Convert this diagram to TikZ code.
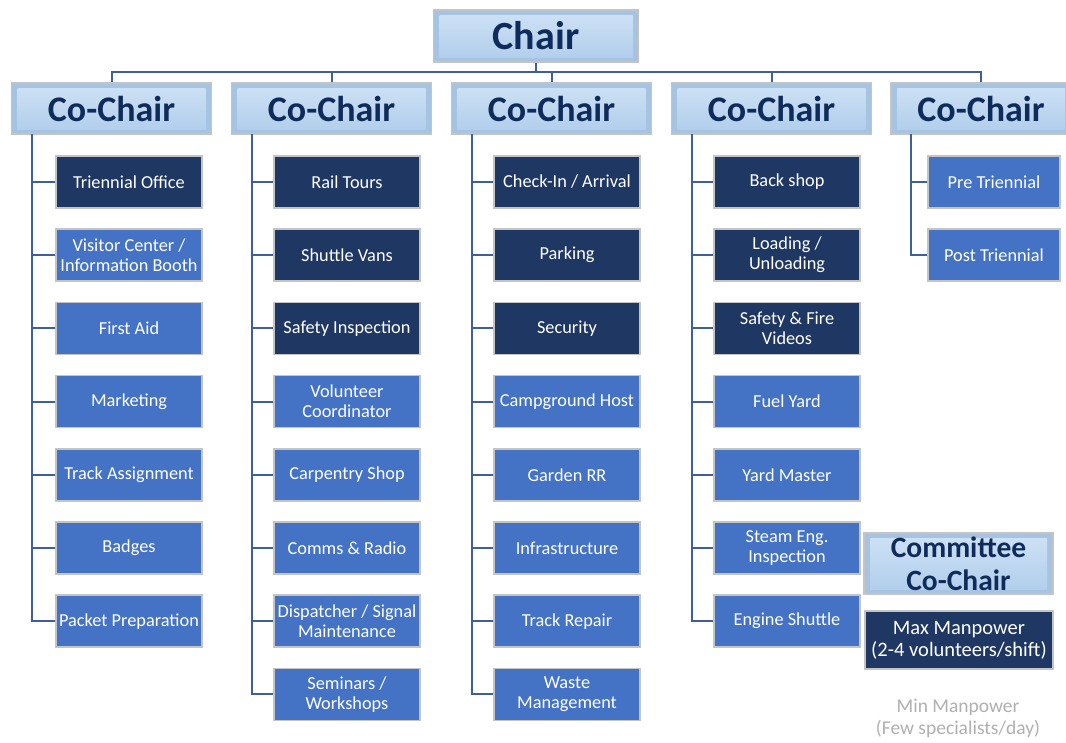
\documentclass[tikz,border=0pt]{standalone}
\usepackage{fontspec}
\setmainfont{Carlito}
\definecolor{navy}{HTML}{1F3763}
\definecolor{midblue}{HTML}{4472C4}
\definecolor{conncol}{HTML}{3F5E9C}
\definecolor{titletext}{HTML}{0F2B5B}
\definecolor{bevedge}{HTML}{A6C3E2}
\definecolor{bevtop}{HTML}{CCE0F4}
\definecolor{bevbot}{HTML}{B2CFEC}
\definecolor{boxborder}{HTML}{C4C4C4}
\definecolor{mingrey}{HTML}{B0B0B0}
\tikzset{
  conn/.style={draw=conncol, line width=2pt},
  leaf/.style={draw=boxborder, line width=1.5pt, minimum width=146pt, minimum height=52pt,
    inner sep=0pt, align=center, text=white, font=\fontsize{18.3}{20}\selectfont},
  darkleaf/.style={leaf, fill=navy},
  lightleaf/.style={leaf, fill=midblue},
  bevel/.style={draw=boxborder, line width=1.2pt, inner sep=0pt, align=center, text=titletext,
    path picture={
      \fill[bevedge] (path picture bounding box.south west) rectangle (path picture bounding box.north east);
      \shade[top color=bevtop, bottom color=bevbot]
        ([shift={(6pt,-5pt)}]path picture bounding box.north west) rectangle
        ([shift={(-6pt,5pt)}]path picture bounding box.south east);
    }},
  cochair/.style={bevel, minimum width=200pt, minimum height=51pt, font=\fontsize{36}{38}\selectfont\bfseries},
}
\begin{document}
\begin{tikzpicture}[x=1pt, y=-1pt]
\useasboundingbox[fill=white] (0,0) rectangle (1066,742);

% Chair and co-chairs
\node[bevel, minimum width=205pt, minimum height=52pt, font=\fontsize{40}{42}\selectfont\bfseries] (chair) at (536,36) {Chair};
\node[cochair] (cc1) at (111.5,108.5) {Co-Chair};
\node[cochair] (cc2) at (331.5,108.5) {Co-Chair};
\node[cochair] (cc3) at (551.5,108.5) {Co-Chair};
\node[cochair] (cc4) at (771.5,108.5) {Co-Chair};
\node[cochair, minimum width=180pt] (cc5) at (981,108.5) {Co-Chair};

\coordinate (hl) at (0,72);
\draw[conn] (chair.south) -- (chair.south |- hl);
\draw[conn] (cc1.north) -- (cc1.north |- hl) -| (cc5.north);
\draw[conn] (cc2.north) -- (cc2.north |- hl);
\draw[conn] (cc3.north) -- (cc3.north |- hl);
\draw[conn] (cc4.north) -- (cc4.north |- hl);

% Column 1
\node[darkleaf]  (c1a) at (129,182)   {Triennial Office};
\node[lightleaf] (c1b) at (129,255.2) {Visitor Center /\\Information Booth};
\node[lightleaf] (c1c) at (129,328.4) {First Aid};
\node[lightleaf] (c1d) at (129,401.6) {Marketing};
\node[lightleaf] (c1e) at (129,474.8) {Track Assignment};
\node[lightleaf] (c1f) at (129,548)   {Badges};
\node[lightleaf] (c1g) at (129,621.2) {Packet Preparation};

% Column 2
\node[darkleaf]  (c2a) at (347,182)   {Rail Tours};
\node[darkleaf]  (c2b) at (347,255.2) {Shuttle Vans};
\node[darkleaf]  (c2c) at (347,328.4) {Safety Inspection};
\node[lightleaf] (c2d) at (347,401.6) {Volunteer\\Coordinator};
\node[lightleaf] (c2e) at (347,474.8) {Carpentry Shop};
\node[lightleaf] (c2f) at (347,548)   {Comms \& Radio};
\node[lightleaf] (c2g) at (347,621.2) {Dispatcher / Signal\\Maintenance};
\node[lightleaf] (c2h) at (347,694.4) {Seminars /\\Workshops};

% Column 3
\node[darkleaf]  (c3a) at (567,182)   {Check-In / Arrival};
\node[darkleaf]  (c3b) at (567,255.2) {Parking};
\node[darkleaf]  (c3c) at (567,328.4) {Security};
\node[lightleaf] (c3d) at (567,401.6) {Campground Host};
\node[lightleaf] (c3e) at (567,474.8) {Garden RR};
\node[lightleaf] (c3f) at (567,548)   {Infrastructure};
\node[lightleaf] (c3g) at (567,621.2) {Track Repair};
\node[lightleaf] (c3h) at (567,694.4) {Waste\\Management};

% Column 4
\node[darkleaf]  (c4a) at (787,182)   {Back shop};
\node[darkleaf]  (c4b) at (787,255.2) {Loading /\\Unloading};
\node[darkleaf]  (c4c) at (787,328.4) {Safety \& Fire\\Videos};
\node[lightleaf] (c4d) at (787,401.6) {Fuel Yard};
\node[lightleaf] (c4e) at (787,474.8) {Yard Master};
\node[lightleaf] (c4f) at (787,548)   {Steam Eng.\\Inspection};
\node[lightleaf] (c4g) at (787,621.2) {Engine Shuttle};

% Column 5
\node[lightleaf, minimum width=132pt] (c5a) at (994,182)   {Pre Triennial};
\node[lightleaf, minimum width=132pt] (c5b) at (994,255.2) {Post Triennial};

% Spines
\coordinate (s1) at (32,134);
\coordinate (s2) at (252,134);
\coordinate (s3) at (472,134);
\coordinate (s4) at (692,134);
\coordinate (s5) at (911,134);
\draw[conn] (s1) |- (c1g.west);
\draw[conn] (s2) |- (c2h.west);
\draw[conn] (s3) |- (c3h.west);
\draw[conn] (s4) |- (c4g.west);
\draw[conn] (s5) |- (c5b.west);
\foreach \n in {c1a,c1b,c1c,c1d,c1e,c1f}{\draw[conn] (\n.west) -- (\n.west -| s1);}
\foreach \n in {c2a,c2b,c2c,c2d,c2e,c2f,c2g}{\draw[conn] (\n.west) -- (\n.west -| s2);}
\foreach \n in {c3a,c3b,c3c,c3d,c3e,c3f,c3g}{\draw[conn] (\n.west) -- (\n.west -| s3);}
\foreach \n in {c4a,c4b,c4c,c4d,c4e,c4f}{\draw[conn] (\n.west) -- (\n.west -| s4);}
\draw[conn] (c5a.west) -- (c5a.west -| s5);

% Legend
\node[bevel, minimum width=189pt, minimum height=61pt, font=\fontsize{29.5}{33}\selectfont\bfseries] (legcc) at (958.5,563.5) {Committee\\Co-Chair};
\node[darkleaf, minimum width=188pt, minimum height=58pt, font=\fontsize{20.5}{22}\selectfont] (legmax) at (959,640) {Max Manpower\\(2-4 volunteers/shift)};
\node[align=center, text=mingrey, inner sep=0pt, font=\fontsize{19.5}{22}\selectfont] (legmin) at (958,718) {Min Manpower\\(Few specialists/day)};
\end{tikzpicture}
\end{document}
